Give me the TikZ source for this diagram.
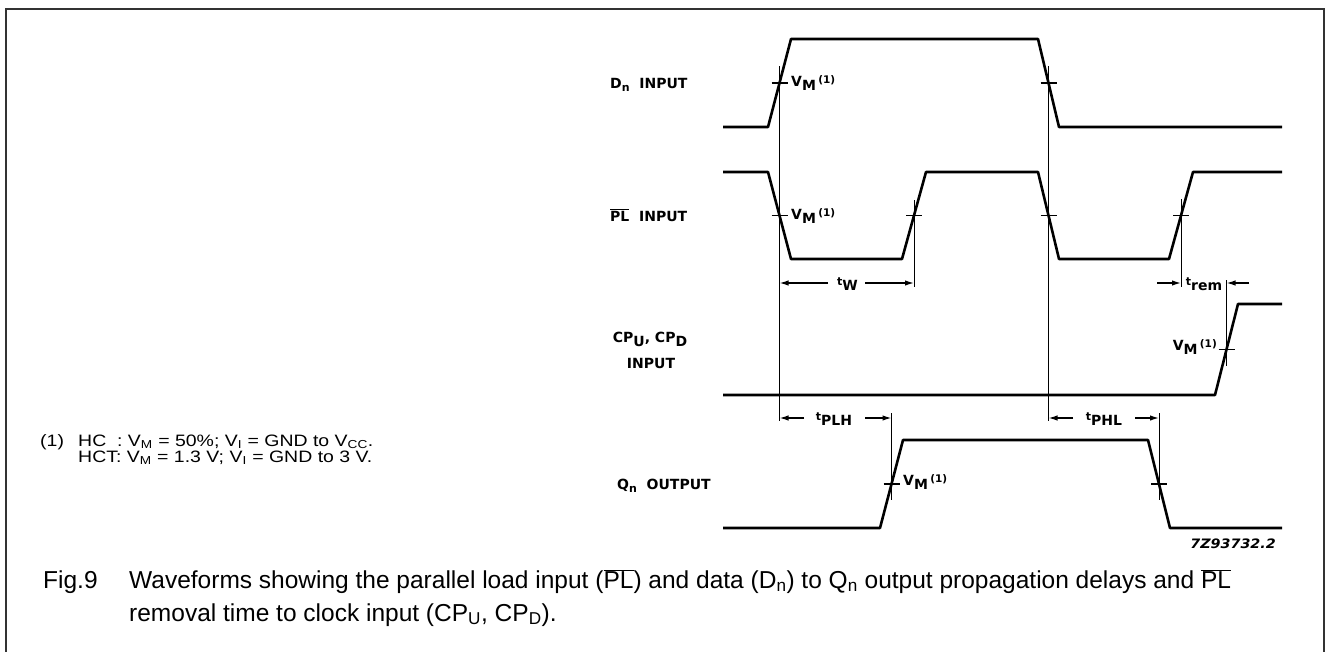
\documentclass[tikz,border=0pt]{standalone}
\usepackage{fontspec}
\setmainfont{Liberation Sans}
\newfontfamily\figfont{DejaVu Sans}
\usetikzlibrary{arrows.meta}
\newcommand{\VMlbl}{V\raisebox{-4pt}{M}\,\raisebox{2.5pt}{\fontsize{10.5}{12}\selectfont(1)}}
\newcommand{\tlbl}[1]{\raisebox{2.5pt}{\fontsize{11}{13}\selectfont t}\raisebox{-3pt}{#1}}
\begin{document}
\begin{tikzpicture}[x=1pt,y=-1pt,
 frame/.style={line width=2pt,draw=black!80},
 wave/.style={line width=2.6pt,line join=round},
 refl/.style={line width=0.8pt},
 tickm/.style={line width=1.3pt},
 dimarr/.style={line width=1.4pt,-{Latex[length=9pt,width=5.5pt]}},
 sig/.style={font=\figfont\bfseries\fontsize{14}{17}\selectfont,inner sep=0pt},
 vm/.style={font=\figfont\bfseries\fontsize{14}{17}\selectfont,inner sep=0pt},
 dimlbl/.style={font=\figfont\bfseries\fontsize{14}{17}\selectfont,inner sep=0pt},
 captxt/.style={font=\fontsize{24.5}{29}\selectfont,anchor=base west,inner sep=0pt},
 notetxt/.style={font=\fontsize{16.5}{19}\selectfont,anchor=base west,inner sep=0pt},
]
\useasboundingbox (0,0) rectangle (1331,651);
% frame
\draw[frame] (6,655) -- (6,9) -- (1324,9) -- (1324,655);

% waveforms
\draw[wave] (723,127) -- (768,127) -- (791,39) -- (1038,39) -- (1059,127) -- (1282,127);
\draw[wave] (723,172) -- (768,172) -- (791,259) -- (902,259) -- (926,172) -- (1038,172) -- (1059,259) -- (1169,259) -- (1193,172) -- (1282,172);
\draw[wave] (723,395) -- (1215,395) -- (1238,304) -- (1282,304);
\draw[wave] (723,528) -- (880,528) -- (903,440) -- (1148,440) -- (1170,528) -- (1282,528);

% crossing points
\coordinate (dr) at (779.5,83);
\coordinate (df) at (1048.5,83);
\coordinate (pf1) at (779.5,215.5);
\coordinate (pr1) at (914,215.5);
\coordinate (pf2) at (1048.5,215.5);
\coordinate (pr2) at (1181,215.5);
\coordinate (cr) at (1226.5,349.5);
\coordinate (qr) at (891.5,484);
\coordinate (qf) at (1159,484);

% reference lines
\coordinate (r1a) at (779.5,66);   \coordinate (r1b) at (779.5,421);
\coordinate (r2a) at (1048.5,66);  \coordinate (r2b) at (1048.5,421);
\coordinate (r3a) at (914,200);    \coordinate (r3b) at (914,287);
\coordinate (r4a) at (1181,199);   \coordinate (r4b) at (1181,287);
\coordinate (r5a) at (891.5,413);  \coordinate (r5b) at (891.5,500);
\coordinate (r6a) at (1159,413);   \coordinate (r6b) at (1159,500);
\coordinate (r7a) at (1226.5,280); \coordinate (r7b) at (1226.5,366);
\foreach \a/\b in {r1a/r1b,r2a/r2b,r3a/r3b,r4a/r4b,r5a/r5b,r6a/r6b,r7a/r7b}
  \draw[refl] (\a) -- (\b);

% ticks
\foreach \c in {dr,df,pf1,pr1,pf2,pr2,cr,qr,qf}
  \draw[tickm] ([xshift=-8pt]\c) -- ([xshift=8pt]\c);

% signal labels
\node[sig,anchor=base west] (ldn) at (610,88) {D\raisebox{-3pt}{\fontsize{11}{13}\selectfont n}\ \ INPUT};
\node[sig,anchor=base west] (lpl) at (610,221) {$\overline{\hbox{PL}}$\ \ INPUT};
\node[sig,anchor=base] (lcp1) at (650,342) {CP\raisebox{-4pt}{U}, CP\raisebox{-4pt}{D}};
\node[sig,anchor=base] (lcp2) at (651,368) {INPUT};
\node[sig,anchor=base west] (lqn) at (617,489) {Q\raisebox{-3pt}{\fontsize{11}{13}\selectfont n}\ \ OUTPUT};

% VM labels
\node[vm,anchor=base west] (vm1) at (791,86) {\VMlbl};
\node[vm,anchor=base west] (vm2) at (791,219) {\VMlbl};
\node[vm,anchor=base west] (vm3) at (903,485) {\VMlbl};
\node[vm,anchor=base east] (vm4) at (1217,350) {\VMlbl};

% dimension arrows
\coordinate (twa) at (779.5,283); \coordinate (twat) at (828,283);
\coordinate (twb) at (914,283);   \coordinate (twbt) at (865,283);
\node[dimlbl] (tw) at (847.5,284) {\tlbl{W}};
\draw[dimarr] (twat) -- (twa);
\draw[dimarr] (twbt) -- (twb);

\coordinate (tpla) at (779.5,418); \coordinate (tplat) at (804,418);
\coordinate (tplb) at (891.5,418); \coordinate (tplbt) at (865,418);
\node[dimlbl] (tplh) at (834,419) {\tlbl{PLH}};
\draw[dimarr] (tplat) -- (tpla);
\draw[dimarr] (tplbt) -- (tplb);

\coordinate (tpha) at (1048.5,418); \coordinate (tphat) at (1073,418);
\coordinate (tphb) at (1159,418);   \coordinate (tphbt) at (1135,418);
\node[dimlbl] (tphl) at (1104,419) {\tlbl{PHL}};
\draw[dimarr] (tphat) -- (tpha);
\draw[dimarr] (tphbt) -- (tphb);

\coordinate (trs) at (1157,283); \coordinate (tre) at (1249,283);
\coordinate (trl) at (1181,283); \coordinate (trr) at (1226.5,283);
\node[dimlbl] (trem) at (1204,284) {\tlbl{rem}};
\draw[dimarr] (trs) -- (trl);
\draw[dimarr] (tre) -- (trr);

% drawing number
\node[font=\figfont\bfseries\itshape\fontsize{13}{15}\selectfont,anchor=east,inner sep=0pt] (num) at (1276,544) {\scalebox{1.1}[1]{7Z93732.2}};

% note
\node[notetxt] (n1) at (40,446) {\scalebox{1.18}[1]{(1)}};
\node[notetxt] (n2) at (78,446) {\scalebox{1.18}[1]{HC\ \ : V\textsubscript{M} = 50\%; V\textsubscript{I} = GND to V\textsubscript{CC}.}};
\node[notetxt] (n3) at (78,462) {\scalebox{1.18}[1]{HCT: V\textsubscript{M} = 1.3 V; V\textsubscript{I} = GND to 3 V.}};

% caption
\node[captxt] (fig) at (43,588) {Fig.9};
\node[captxt] (c1) at (129,588) {Waveforms showing the parallel load input ($\overline{\hbox{PL}}$) and data (D\textsubscript{n}) to Q\textsubscript{n} output propagation delays and $\overline{\hbox{PL}}$};
\node[captxt] (c2) at (129,621) {removal time to clock input (CP\textsubscript{U}, CP\textsubscript{D}).};
\end{tikzpicture}
\end{document}
